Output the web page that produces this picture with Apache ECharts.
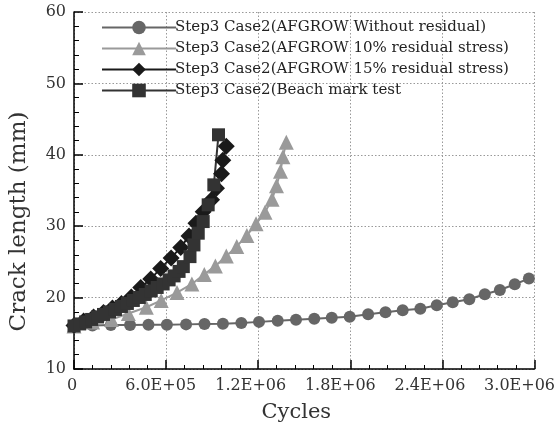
<!DOCTYPE html>
<html><head><meta charset="utf-8">
<script src="https://cdn.jsdelivr.net/npm/echarts@6/dist/echarts.min.js"></script>
<style>html,body{margin:0;padding:0;background:#fff}#c{width:558px;height:430px}</style>
</head><body><div id="c"></div>
<script>
const seriesNames = [
  'Step3 Case2(AFGROW Without residual)',
  'Step3 Case2(AFGROW 10% residual stress)',
  'Step3 Case2(AFGROW 15% residual stress)',
  'Step3 Case2(Beach mark test'
];
const xTickLabels = ['0','6.0E+05','1.2E+06','1.8E+06','2.4E+06','3.0E+06'];
const yTickLabels = ['10','20','30','40','50','60'];

const noResCycles = [0,120000,240000,365000,485000,605000,730000,850000,970000,1090000,1205000,1327000,1446000,1565000,1679000,1796000,1916000,2029000,2141000,2256000,2363000,2467000,2575000,2676000,2774000,2871000,2963000];
const noResCrack  = [16.1,16.1,16.15,16.15,16.2,16.2,16.25,16.3,16.35,16.45,16.6,16.75,16.9,17.04,17.19,17.33,17.67,17.95,18.23,18.45,18.93,19.35,19.77,20.47,21.07,21.87,22.66];

const res10Cycles = [0,121000,244000,354000,471000,568000,671000,768000,849000,921000,992000,1060000,1126000,1186000,1244000,1290000,1319000,1345000,1361000,1383000];
const res10Crack  = [16.03,16.59,16.94,17.78,18.65,19.60,20.70,21.91,23.25,24.44,25.81,27.17,28.71,30.33,31.94,33.76,35.65,37.68,39.72,41.75];

const res15Cycles = [0,62800,127500,192300,250500,308800,373500,435000,499800,564500,632500,695300,749000,794300,841600,896000,928400,960700,969200,991800];
const res15Crack  = [16.10,16.73,17.29,17.92,18.55,19.18,20.09,21.42,22.62,24.09,25.56,27.03,28.64,30.42,32.01,33.69,35.33,37.33,39.23,41.19];

const beachCycles = [0,36900,75700,114600,153400,192300,231100,270000,308800,347700,386500,425400,464200,503100,541900,580700,619600,652000,684400,712100,755500,781400,809300,841600,874000,910900,941300];
const beachCrack  = [16.03,16.31,16.59,16.94,17.29,17.64,17.99,18.34,18.76,19.18,19.60,20.02,20.44,20.93,21.42,21.91,22.48,23.04,23.67,24.34,25.74,27.38,29.02,30.65,32.99,35.79,42.80];

const zip = (a, b) => a.map((v, i) => [v, b[i]]);
const FONT = 'DejaVu Serif';

// small horizontal nudges of x tick labels (as in the reference)
const xLabelShift = [2, 5.5, 7.5, 10, 12.5, 15];
const rich = {};
xLabelShift.forEach((s, i) => {
  rich['k' + i] = {fontFamily: FONT, fontSize: 16, color: '#333', padding: [0, 2 * s, 0, 0]};
});

const chart = echarts.init(document.getElementById('c'), null, {renderer: 'canvas'});
const mk = (name, data, symbol, size, color, lineColor) => ({
  name, type: 'line', data, symbol, symbolSize: size,
  lineStyle: {color: lineColor, width: 2},
  itemStyle: {color: color},
  emphasis: {disabled: true},
  animation: false
});

chart.setOption({
  animation: false,
  backgroundColor: '#fff',
  grid: {left: 73, right: 21, top: 12, bottom: 61},
  legend: {
    orient: 'vertical', left: 96, top: 15,
    itemWidth: 74, itemHeight: 17, itemGap: 6,
    textStyle: {fontFamily: FONT, fontSize: 15, color: '#222', padding: [0, 0, 0, -6]},
    data: seriesNames
  },
  xAxis: {
    type: 'value', min: 0, max: 3000000, interval: 600000,
    name: 'Cycles', nameLocation: 'middle', nameGap: 33,
    nameTextStyle: {fontFamily: FONT, fontSize: 21, color: '#333', padding: [0, 16, 0, 0]},
    axisLine: {show: true, lineStyle: {color: '#000', width: 1.5}},
    axisTick: {show: true, inside: true, length: 9, lineStyle: {color: '#000', width: 1.5}},
    minorTick: {show: true, splitNumber: 5, length: 4, lineStyle: {color: '#000', width: 1}},
    axisLabel: {
      margin: 9,
      formatter: (v) => {
        const i = Math.round(v / 600000);
        return '{k' + i + '|' + xTickLabels[i] + '}';
      },
      rich
    },
    splitLine: {show: true, lineStyle: {color: '#999', type: [1.5, 2], width: 1}}
  },
  yAxis: {
    type: 'value', min: 10, max: 60, interval: 10,
    name: 'Crack length (mm)', nameLocation: 'middle', nameGap: 43,
    nameTextStyle: {fontFamily: FONT, fontSize: 23, color: '#333', padding: [0, 62, 0, 0]},
    axisLine: {show: true, lineStyle: {color: '#000', width: 1.5}},
    axisTick: {show: true, inside: true, length: 9, lineStyle: {color: '#000', width: 1.5}},
    minorTick: {show: true, splitNumber: 5, length: 5, lineStyle: {color: '#000', width: 1}},
    axisLabel: {
      margin: 8, fontFamily: FONT, fontSize: 16, color: '#333',
      formatter: (v) => yTickLabels[Math.round((v - 10) / 10)]
    },
    splitLine: {show: true, lineStyle: {color: '#999', type: [1.5, 2], width: 1}}
  },
  series: [
    mk(seriesNames[0], zip(noResCycles, noResCrack), 'circle', 12, '#666', '#666'),
    mk(seriesNames[1], zip(res10Cycles, res10Crack), 'triangle', 15, '#9a9a9a', '#9a9a9a'),
    mk(seriesNames[2], zip(res15Cycles, res15Crack), 'diamond', 17, '#1a1a1a', '#1a1a1a'),
    mk(seriesNames[3], zip(beachCycles, beachCrack), 'rect', 13, '#333', '#333')
  ]
});
</script>
</body></html>
